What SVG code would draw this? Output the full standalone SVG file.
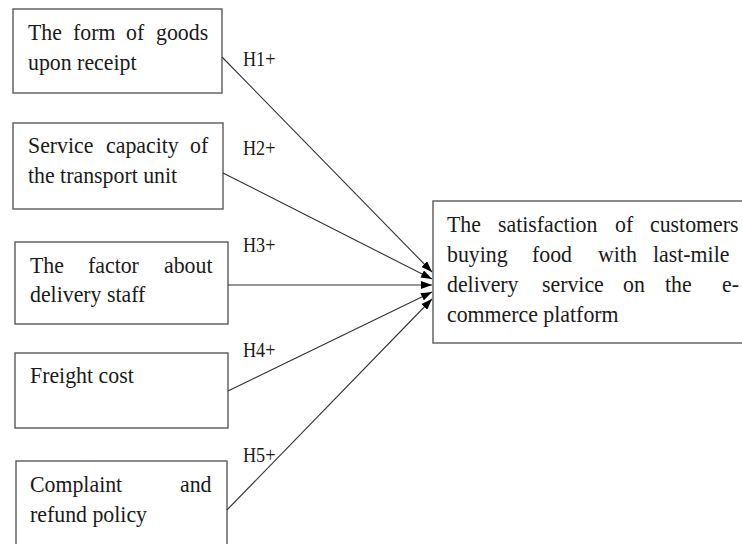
<svg xmlns="http://www.w3.org/2000/svg" width="742" height="544" viewBox="0 0 742 544">
  <style>
    .box { fill: #ffffff; stroke: #5a5a5a; stroke-width: 1.4; }
    .txt { font-family: "Liberation Serif", "Times New Roman", serif; font-size: 24px; fill: #1a1a1a; }
    .lbl { font-family: "Liberation Serif", "Times New Roman", serif; font-size: 20px; fill: #1a1a1a; }
    .link { stroke: #333333; stroke-width: 1.1; fill: none; marker-end: url(#tip); }
  </style>
  <defs>
    <marker id="tip" markerUnits="userSpaceOnUse" markerWidth="12" markerHeight="8" refX="11" refY="4" orient="auto">
      <path d="M0,0 L11,4 L0,8 Z" fill="#000000"/>
    </marker>
  </defs>
  <rect width="742" height="544" fill="#ffffff"/>

  <!-- Factor boxes; text is set in a slightly condensed serif (x scaled by 0.91) -->
  <g id="form-of-goods">
    <rect class="box" x="13" y="9" width="209" height="84"/>
    <g transform="scale(0.91,1)">
      <text class="txt" y="40"><tspan x="30.77">The</tspan><tspan x="80.22">form</tspan><tspan x="138.46">of</tspan><tspan x="171.43">goods</tspan></text>
      <text class="txt" x="30.77" y="70">upon receipt</text>
    </g>
  </g>
  <g id="service-capacity">
    <rect class="box" x="13" y="123" width="210" height="86"/>
    <g transform="scale(0.91,1)">
      <text class="txt" y="153"><tspan x="30.77">Service</tspan><tspan x="116.48">capacity</tspan><tspan x="208.79">of</tspan></text>
      <text class="txt" x="30.77" y="183">the transport unit</text>
    </g>
  </g>
  <g id="delivery-staff">
    <rect class="box" x="15" y="242" width="213" height="82"/>
    <g transform="scale(0.91,1)">
      <text class="txt" y="273"><tspan x="32.97">The</tspan><tspan x="96.70">factor</tspan><tspan x="180.22">about</tspan></text>
      <text class="txt" x="32.97" y="302">delivery staff</text>
    </g>
  </g>
  <g id="freight-cost">
    <rect class="box" x="15" y="353" width="213" height="75"/>
    <g transform="scale(0.91,1)">
      <text class="txt" x="32.97" y="383">Freight cost</text>
    </g>
  </g>
  <g id="refund-policy">
    <rect class="box" x="16" y="461" width="211" height="95"/>
    <g transform="scale(0.91,1)">
      <text class="txt" y="492"><tspan x="32.97">Complaint</tspan><tspan x="197.80">and</tspan></text>
      <text class="txt" x="32.97" y="522">refund policy</text>
    </g>
  </g>

  <!-- Outcome box -->
  <g id="satisfaction">
    <rect class="box" x="433" y="201" width="320" height="142"/>
    <g transform="scale(0.91,1)">
      <text class="txt" y="232"><tspan x="491.21">The</tspan><tspan x="547.25">satisfaction</tspan><tspan x="675.82">of</tspan><tspan x="714.29">customers</tspan></text>
      <text class="txt" y="262"><tspan x="491.21">buying</tspan><tspan x="584.62">food</tspan><tspan x="657.14">with</tspan><tspan x="717.58">last-mile</tspan></text>
      <text class="txt" y="292"><tspan x="491.21">delivery</tspan><tspan x="595.60">service</tspan><tspan x="684.62">on</tspan><tspan x="730.77">the</tspan><tspan x="793.41">e-</tspan></text>
      <text class="txt" x="491.21" y="322">commerce platform</text>
    </g>
  </g>

  <!-- Hypothesis paths -->
  <g id="connectors">
    <line class="link" x1="222" y1="57" x2="432" y2="272"/>
    <line class="link" x1="223" y1="173" x2="432" y2="279"/>
    <line class="link" x1="228" y1="285" x2="432" y2="285"/>
    <line class="link" x1="228" y1="391" x2="432" y2="292"/>
    <line class="link" x1="227" y1="510" x2="432" y2="299"/>
    <g transform="scale(0.91,1)">
      <text class="lbl" x="267.03" y="66">H1+</text>
      <text class="lbl" x="267.03" y="155">H2+</text>
      <text class="lbl" x="267.03" y="252">H3+</text>
      <text class="lbl" x="267.03" y="357">H4+</text>
      <text class="lbl" x="267.03" y="462">H5+</text>
    </g>
  </g>
</svg>
